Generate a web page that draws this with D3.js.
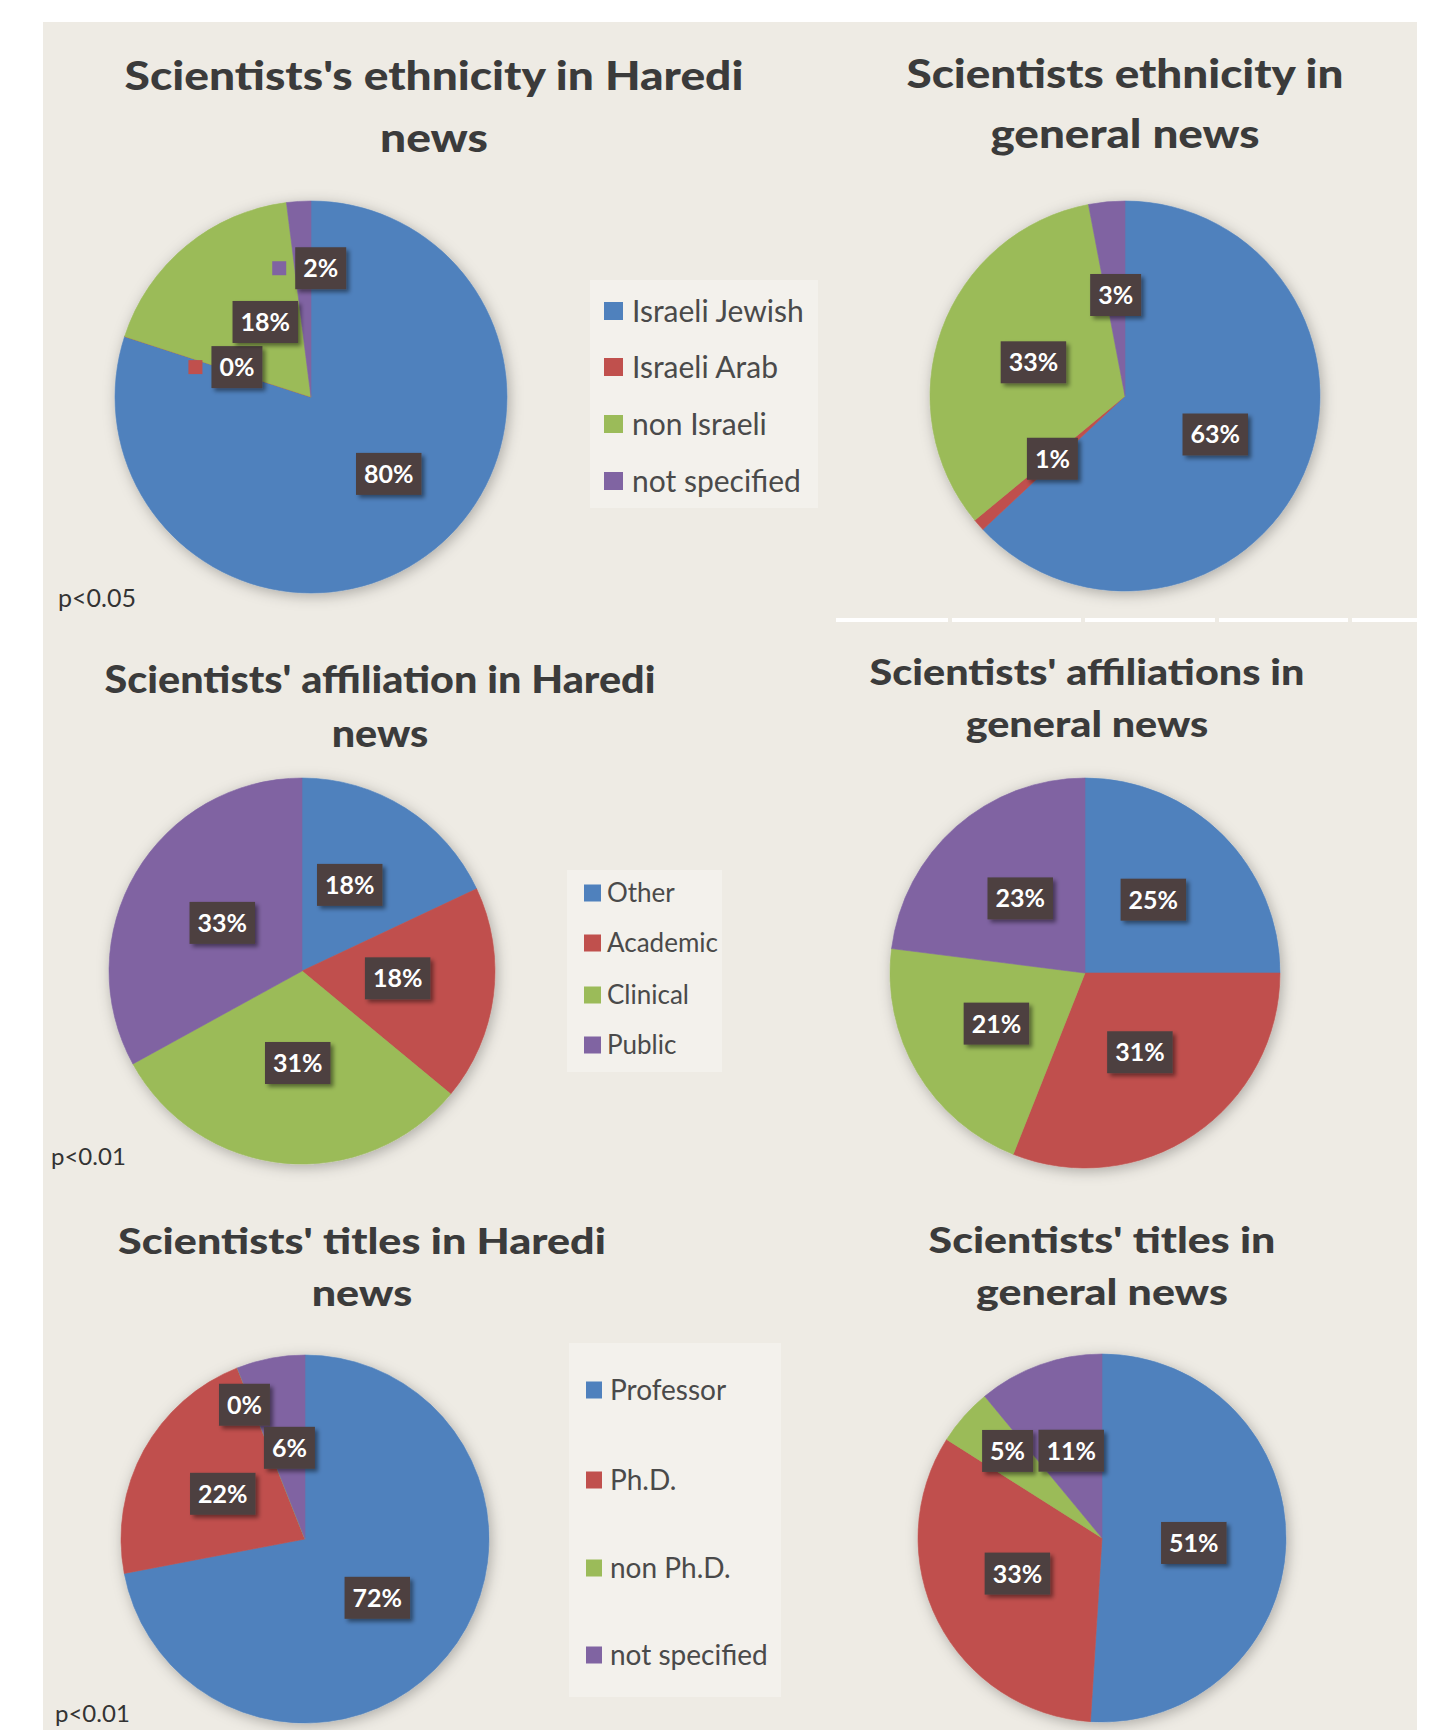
<!DOCTYPE html>
<html>
<head>
<meta charset="utf-8">
<script src="https://cdn.jsdelivr.net/npm/d3@7"></script>
<style>
  html, body { margin: 0; padding: 0; background: #ffffff; }
  svg { display: block; }
  text { font-family: Lato, "Open Sans", sans-serif; }
</style>
</head>
<body>
<svg id="chart" width="1440" height="1730"></svg>
<script>
// ---------------- DATA ----------------
const ethnicityCategories = ["Israeli Jewish", "Israeli Arab", "non Israeli", "not specified"];
const ethnicityHaredi = [80, 0, 18, 2];
const ethnicityGeneral = [63, 1, 33, 3];

const affiliationCategories = ["Other", "Academic", "Clinical", "Public"];
const affiliationHaredi = [18, 18, 31, 33];
const affiliationGeneral = [25, 31, 21, 23];

const titleCategories = ["Professor", "Ph.D.", "non Ph.D.", "not specified"];
const titlesHaredi = [72, 22, 0, 6];
const titlesGeneral = [51, 33, 5, 11];

const chartTitles = [
  ["Scientists's ethnicity in Haredi", "news"],
  ["Scientists ethnicity in", "general news"],
  ["Scientists' affiliation in Haredi", "news"],
  ["Scientists' affiliations in", "general news"],
  ["Scientists' titles in Haredi", "news"],
  ["Scientists' titles in", "general news"]
];
const pValueLabels = ["p<0.05", "p<0.01", "p<0.01"];

// ---------------- STYLE / LAYOUT ----------------
const seriesColors = ["#4F81BD", "#C0504D", "#9BBB59", "#8064A2"];
const bgColor = "#EEEBE4";
const legendBg = "#F3F1EC";
const labelBoxColor = "#4D4141";
const titleColor = "#3B3B3B";

const pies = [
  { values: ethnicityHaredi,   cx: 311,  cy: 397,  r: 196, tx: 434,  ty: [90, 152],   tw: 619, ts: 39,
    nudge: [[19, -4], [21, 1], [18, 2], [16, -29]], keys: [false, true, false, true] },
  { values: ethnicityGeneral,  cx: 1125, cy: 396,  r: 195, tx: 1125, ty: [88, 148],   tw: 437, ts: 40,
    nudge: [[-1, -1], [2, -3], [2, 0], [0, -2]] },
  { values: affiliationHaredi, cx: 302,  cy: 971,  r: 193, tx: 380,  ty: [693, 747],  tw: 551, ts: 37,
    nudge: [[-5, -3], [-2, -5], [5, -6], [5, 2]] },
  { values: affiliationGeneral,cx: 1085, cy: 973,  r: 195, tx: 1087, ty: [685, 737],  tw: 435, ts: 37,
    nudge: [[-2, -3], [-1, -3], [-3, 0], [1, 0]] },
  { values: titlesHaredi,      cx: 305,  cy: 1539, r: 184, tx: 362,  ty: [1254, 1306], tw: 488, ts: 36,
    nudge: [[0, -1], [0, 0], [-26, -47], [2, 1]] },
  { values: titlesGeneral,     cx: 1102, cy: 1538, r: 184, tx: 1102, ty: [1253, 1305], tw: 347, ts: 36,
    nudge: [[-2, 2], [-1, -7], [-24, -25], [1, 1]] }
];

const legends = [
  { cats: ethnicityCategories,   bx: 590, by: 280,  bw: 228, bh: 228, items: [311, 367, 424, 481],
    mx: 604, mw: 19, mh: 18, tx: 632, fs: 30 },
  { cats: affiliationCategories, bx: 567, by: 870,  bw: 155, bh: 202, items: [893, 943, 995, 1045],
    mx: 584, mw: 17, mh: 17, tx: 607, fs: 26 },
  { cats: titleCategories,       bx: 569, by: 1343, bw: 212, bh: 354, items: [1390, 1480, 1568, 1655],
    mx: 586, mw: 16, mh: 17, tx: 610, fs: 28 }
];

const pValuePos = [[58, 607, 25], [51, 1165, 24], [55, 1722, 24]];

// ---------------- DRAW ----------------
const svg = d3.select("#chart");
const defs = svg.append("defs");

const pieShadow = defs.append("filter").attr("id", "pieShadow")
  .attr("x", "-20%").attr("y", "-20%").attr("width", "140%").attr("height", "140%");
pieShadow.append("feDropShadow").attr("dx", 2).attr("dy", 3).attr("stdDeviation", 7)
  .attr("flood-color", "#000").attr("flood-opacity", 0.28);

const boxShadow = defs.append("filter").attr("id", "boxShadow")
  .attr("x", "-30%").attr("y", "-30%").attr("width", "160%").attr("height", "160%");
boxShadow.append("feDropShadow").attr("dx", 3).attr("dy", 3).attr("stdDeviation", 2)
  .attr("flood-color", "#000").attr("flood-opacity", 0.45);

// background panel
svg.append("rect").attr("x", 43).attr("y", 22).attr("width", 1374).attr("height", 1708)
  .attr("fill", bgColor);

// white separator line (top-right panel edge)
const sepSegments = [[836, 948], [952, 1081], [1085, 1215], [1219, 1348], [1352, 1417]];
svg.append("g").selectAll("line").data(sepSegments).join("line")
  .attr("x1", d => d[0]).attr("x2", d => d[1])
  .attr("y1", 620).attr("y2", 620)
  .attr("stroke", "#ffffff").attr("stroke-width", 4);

const pieGen = d3.pie().sort(null).value(d => d);

pies.forEach((p, i) => {
  const g = svg.append("g");

  // title
  const tg = g.append("g");
  const lines = chartTitles[i];
  const t1 = tg.append("text").text(lines[0])
    .attr("text-anchor", "middle").attr("font-size", p.ts).attr("font-weight", 900)
    .attr("fill", titleColor);
  const natural = t1.node().getComputedTextLength();
  const sx = p.tw / natural;
  t1.attr("transform", `translate(${p.tx},${p.ty[0]}) scale(${sx},1)`);
  tg.append("text").text(lines[1])
    .attr("text-anchor", "middle").attr("font-size", p.ts).attr("font-weight", 900)
    .attr("fill", titleColor)
    .attr("transform", `translate(${p.tx},${p.ty[1]}) scale(${sx},1)`);

  // pie
  const arcs = pieGen(p.values);
  const arc = d3.arc().innerRadius(0).outerRadius(p.r);
  const pg = g.append("g").attr("transform", `translate(${p.cx},${p.cy})`)
    .attr("filter", "url(#pieShadow)");
  pg.selectAll("path").data(arcs).join("path")
    .attr("d", arc)
    .attr("fill", (d, j) => seriesColors[j])
    .attr("stroke", (d, j) => seriesColors[j])
    .attr("stroke-width", 0.6);

  // data labels
  const labelArc = d3.arc().innerRadius(p.r * 0.51).outerRadius(p.r * 0.51);
  const lg = g.append("g").attr("transform", `translate(${p.cx},${p.cy})`);
  arcs.forEach((d, j) => {
    const c = labelArc.centroid(d);
    const x = c[0] + p.nudge[j][0];
    const y = c[1] + p.nudge[j][1];
    const item = lg.append("g").attr("transform", `translate(${x},${y})`);
    const rect = item.append("rect").attr("fill", labelBoxColor).attr("filter", "url(#boxShadow)");
    const txt = item.append("text").text(d.data + "%")
      .attr("text-anchor", "middle").attr("y", 9)
      .attr("font-size", 25).attr("font-weight", 700).attr("fill", "#ffffff");
    const w = txt.node().getComputedTextLength() + 16;
    const h = 42;
    rect.attr("x", -w / 2).attr("y", -h / 2).attr("width", w).attr("height", h);
    if (p.keys && p.keys[j]) {
      item.append("rect")
        .attr("x", -w / 2 - 9 - 14).attr("y", -7).attr("width", 14).attr("height", 14)
        .attr("fill", seriesColors[j]);
    }
  });
});

// legends
legends.forEach(L => {
  const g = svg.append("g");
  g.append("rect").attr("x", L.bx).attr("y", L.by).attr("width", L.bw).attr("height", L.bh)
    .attr("fill", legendBg);
  L.cats.forEach((c, j) => {
    g.append("rect").attr("x", L.mx).attr("y", L.items[j] - L.mh / 2)
      .attr("width", L.mw).attr("height", L.mh).attr("fill", seriesColors[j]);
    g.append("text").text(c).attr("x", L.tx).attr("y", L.items[j] + L.fs * 0.36)
      .attr("font-size", L.fs).attr("fill", "#4A4A4A");
  });
});

// p-values
pValueLabels.forEach((t, i) => {
  const [x, y, fs] = pValuePos[i];
  svg.append("text").text(t).attr("x", x).attr("y", y)
    .attr("font-size", fs).attr("fill", "#333333");
});
</script>
</body>
</html>
